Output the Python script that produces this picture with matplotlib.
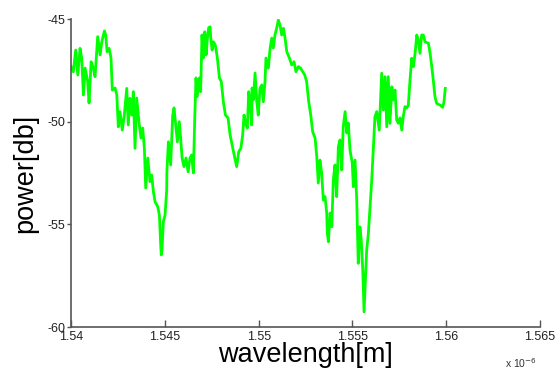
import matplotlib
matplotlib.use("Agg")
import matplotlib.pyplot as plt
import numpy as np

# wavelength in nm, power in dB
wl_nm = [1540.00, 1540.12, 1540.25, 1540.36, 1540.48, 1540.57, 1540.66, 1540.75, 1540.89, 1540.96,
         1541.07, 1541.19, 1541.28, 1541.42, 1541.55, 1541.64, 1541.78, 1541.85, 1541.92, 1542.03,
         1542.13, 1542.20, 1542.35, 1542.44, 1542.52, 1542.61, 1542.73, 1542.84, 1542.97, 1543.05,
         1543.14, 1543.24, 1543.32, 1543.41, 1543.50, 1543.62, 1543.73, 1543.82, 1543.91, 1543.98,
         1544.09, 1544.21, 1544.30, 1544.39, 1544.48, 1544.62, 1544.71, 1544.78, 1544.81, 1544.85,
         1544.92, 1545.01, 1545.10, 1545.11, 1545.19, 1545.31, 1545.42, 1545.49, 1545.60, 1545.67,
         1545.77, 1545.85, 1545.92, 1546.02, 1546.13, 1546.24, 1546.34, 1546.43, 1546.52, 1546.59,
         1546.66, 1546.73, 1546.84, 1546.91, 1546.98, 1547.05, 1547.13, 1547.20, 1547.27, 1547.34,
         1547.41, 1547.45, 1547.52, 1547.59, 1547.69, 1547.80, 1547.91, 1548.01, 1548.12, 1548.23,
         1548.37, 1548.48, 1548.62, 1548.73, 1548.83, 1548.94, 1549.05, 1549.15, 1549.22, 1549.33,
         1549.40, 1549.47, 1549.54, 1549.63, 1549.65, 1549.72, 1549.81, 1549.90, 1549.98, 1550.07,
         1550.17, 1550.25, 1550.34, 1550.39, 1550.52, 1550.61, 1550.70, 1550.78, 1550.87, 1550.96,
         1551.05, 1551.14, 1551.23, 1551.32, 1551.41, 1551.50, 1551.64, 1551.76, 1551.89, 1551.99,
         1552.12, 1552.24, 1552.35, 1552.46, 1552.56, 1552.67, 1552.78, 1552.88, 1553.01, 1553.10,
         1553.18, 1553.27, 1553.36, 1553.45, 1553.54, 1553.63, 1553.66, 1553.72, 1553.81, 1553.90,
         1553.98, 1554.07, 1554.16, 1554.25, 1554.34, 1554.43, 1554.51, 1554.61, 1554.70, 1554.78,
         1554.87, 1554.99, 1555.05, 1555.14, 1555.23, 1555.31, 1555.40, 1555.47, 1555.55, 1555.62,
         1555.69, 1555.76, 1555.85, 1555.94, 1556.03, 1556.11, 1556.20, 1556.30, 1556.43, 1556.56,
         1556.65, 1556.74, 1556.83, 1556.91, 1557.00, 1557.10, 1557.18, 1557.27, 1557.36, 1557.45,
         1557.54, 1557.63, 1557.71, 1557.80, 1557.89, 1557.98, 1558.07, 1558.16, 1558.25, 1558.34,
         1558.43, 1558.51, 1558.60, 1558.69, 1558.78, 1558.87, 1559.05, 1559.14, 1559.23, 1559.31,
         1559.40, 1559.49, 1559.67, 1559.81, 1559.88, 1559.95]

power_db = [-47.32, -47.57, -46.51, -47.73, -46.43, -46.90, -48.70, -47.39, -48.05, -49.09,
            -47.08, -47.40, -47.81, -45.86, -46.75, -46.11, -45.58, -45.78, -46.59, -46.43,
            -46.90, -48.46, -48.36, -48.70, -50.25, -49.51, -50.41, -49.68, -48.38, -50.16,
            -48.86, -49.68, -48.54, -51.30, -48.85, -50.00, -50.80, -50.31, -51.30, -53.23,
            -51.77, -52.92, -52.60, -53.41, -53.90, -54.14, -54.55, -56.01, -56.49, -56.25,
            -54.87, -54.55, -53.33, -52.44, -50.98, -52.11, -49.68, -49.33, -50.31, -50.98,
            -50.00, -50.89, -51.77, -52.19, -51.77, -52.44, -51.77, -51.62, -52.50, -50.00,
            -47.87, -48.78, -47.87, -48.54, -45.78, -46.90, -45.62, -46.75, -45.93, -45.42,
            -45.38, -45.93, -46.51, -46.11, -46.27, -46.90, -47.87, -48.05, -49.03, -49.68,
            -49.82, -50.65, -51.28, -51.77, -52.19, -51.46, -51.30, -50.65, -49.68, -50.16,
            -50.31, -48.54, -48.94, -50.16, -48.36, -48.94, -47.63, -49.03, -49.68, -48.38,
            -48.21, -49.03, -48.05, -46.90, -47.39, -46.43, -45.93, -46.41, -45.78, -45.45,
            -45.05, -45.29, -45.78, -45.45, -45.93, -46.59, -46.90, -47.24, -47.08, -47.57,
            -47.32, -47.40, -47.57, -47.73, -48.05, -49.03, -49.68, -50.49, -50.80, -51.71,
            -52.99, -51.87, -52.50, -53.82, -53.65, -54.45, -55.42, -55.85, -54.45, -55.12,
            -52.84, -52.11, -53.65, -51.22, -50.89, -52.35, -50.25, -49.51, -50.55, -50.07,
            -51.38, -52.01, -53.17, -51.87, -53.82, -56.90, -55.12, -55.76, -57.22, -59.26,
            -57.71, -56.25, -55.44, -54.14, -52.84, -51.38, -49.76, -49.51, -50.41, -47.64,
            -49.43, -47.81, -50.25, -47.81, -50.08, -48.30, -48.94, -48.46, -49.92, -50.08,
            -49.82, -50.41, -49.76, -49.27, -49.33, -49.19, -47.97, -46.91, -47.32, -46.67,
            -45.78, -46.02, -46.67, -45.78, -45.78, -46.11, -46.18, -46.67, -47.32, -47.97,
            -48.78, -49.11, -49.19, -49.30, -49.04, -48.38]

x_ticks = [1.54, 1.545, 1.55, 1.555, 1.56, 1.565]
x_tick_labels = ["1.54", "1.545", "1.55", "1.555", "1.56", "1.565"]
y_ticks = [-60, -55, -50, -45]

plt.rcParams['font.family'] = ['Liberation Sans', 'DejaVu Sans']
plt.rcParams['axes.unicode_minus'] = False

wl_um = np.array(wl_nm) / 1000.0

fig = plt.figure(figsize=(5.55, 3.77), dpi=100)
ax = fig.add_axes([0.128, 0.1326, 0.845, 0.817])

ax.plot(wl_um, power_db, color='#00ff00', linewidth=2.0)

ax.set_xlim(1.54, 1.565)
ax.set_ylim(-60, -45)
ax.set_xticks(x_ticks)
ax.set_xticklabels(x_tick_labels)
ax.set_yticks(y_ticks)

for side in ['top', 'right']:
    ax.spines[side].set_visible(False)
for side in ['left', 'bottom']:
    ax.spines[side].set_color('#555555')
    ax.spines[side].set_linewidth(1.2)

ax.tick_params(axis='x', direction='in', length=5, width=1, color='#555555',
               labelsize=9, pad=3, labelcolor='#222222')
ax.tick_params(axis='y', direction='out', length=3, width=1, color='#555555',
               labelsize=9, pad=1, labelcolor='#222222')

ax.set_xlabel("wavelength[m]", fontsize=19.5, labelpad=-1)
ax.set_ylabel("power[db]", fontsize=19.5, labelpad=7)

ax.text(0.994, -0.117, "x 10$^{-6}$", transform=ax.transAxes, ha='right', va='center',
        fontsize=7.5, color='#333333')

fig.savefig("out.png", dpi=100)
